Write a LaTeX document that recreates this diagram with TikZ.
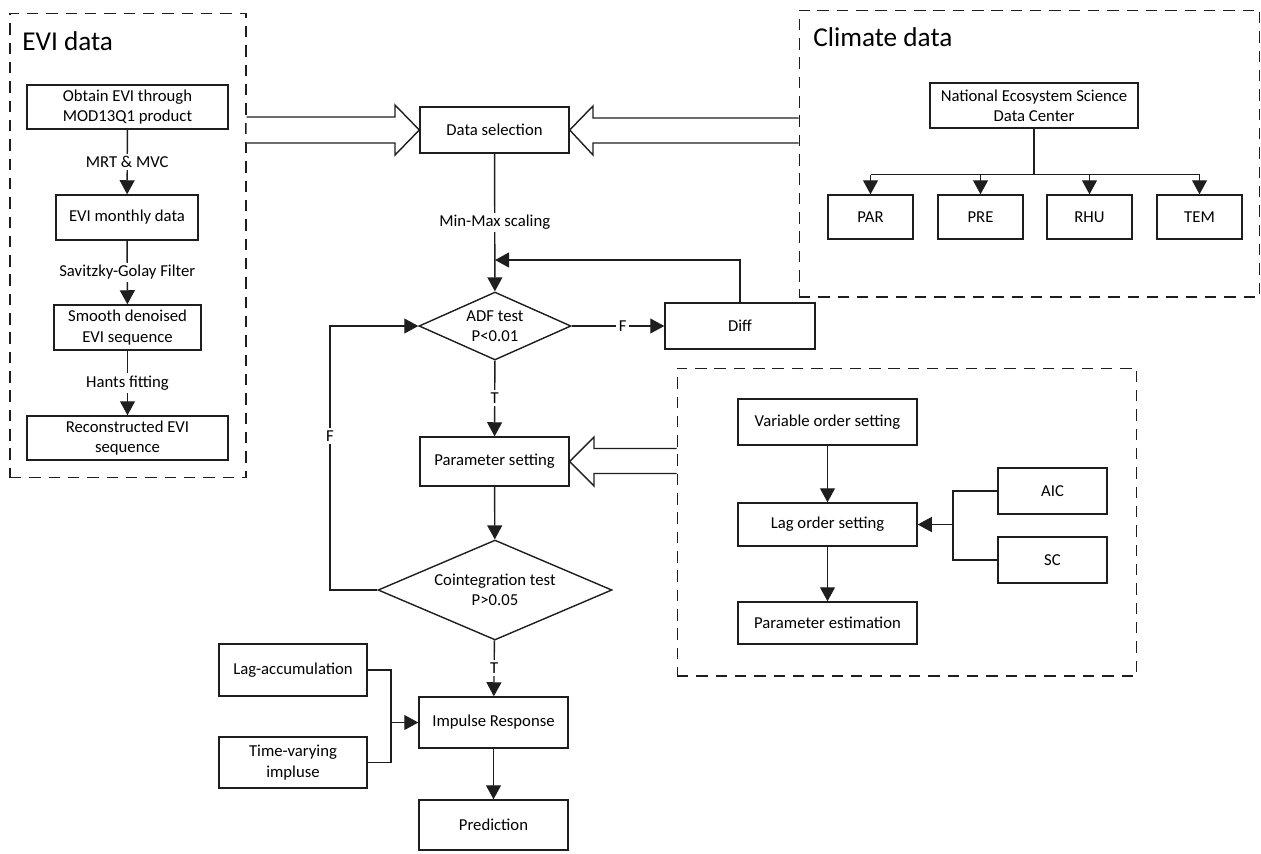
\documentclass[tikz,border=0pt]{standalone}
\usepackage{fontspec}
\setmainfont{Carlito}
\usepackage{tikz}
\usetikzlibrary{positioning, arrows.meta, shapes.geometric, calc}
\definecolor{lineGray}{RGB}{30,30,30}
\tikzset{
  box/.style={draw=lineGray, line width=0.8pt, align=center, inner sep=1pt, font=\fontsize{9.5}{11.5}\selectfont},
  decision/.style={diamond, draw=lineGray, line width=0.8pt, align=center, inner sep=0pt, font=\fontsize{9.5}{11.5}\selectfont},
  group/.style={draw=lineGray, line width=0.6pt, dash pattern=on 6.5pt off 4.5pt, inner sep=0pt},
  flow/.style={draw=lineGray, line width=0.8pt, -{Triangle[length=8pt,width=8.5pt]}},
  link/.style={draw=lineGray, line width=0.8pt},
  hollow/.style={draw=lineGray, line width=0.8pt, fill=white, line join=miter},
  lbl/.style={fill=white, inner sep=1.5pt, font=\fontsize{9.5}{11.5}\selectfont},
  title/.style={anchor=west, inner sep=0pt, font=\fontsize{15.5}{18}\selectfont}
}

\begin{document}
\begin{tikzpicture}[x=0.02cm, y=-0.02cm]
    \useasboundingbox (0,0) rectangle (1261,853);
    % groups
    \node[group, minimum width=4.72cm, minimum height=9.3cm] (evigrp) at (128,245.5) {};
    \node[group, minimum width=9.22cm, minimum height=5.74cm] (climgrp) at (1029.5,153.5) {};
    \node[group, minimum width=9.2cm, minimum height=6.16cm] (vargrp) at (907,522) {};
    \node[title] (evititle) at (22,41) {EVI data};
    \node[title] (climtitle) at (813,37) {Climate data};

    % EVI data
    \node[box, minimum width=4.02cm, minimum height=0.88cm] (obtain) at (127.5,107) {Obtain EVI through\\MOD13Q1 product};
    \node[box, minimum width=2.84cm, minimum height=0.9cm] (monthly) at (127,217.5) {EVI monthly data};
    \node[box, minimum width=2.94cm, minimum height=0.9cm] (smooth) at (127.5,327.5) {Smooth denoised\\EVI sequence};
    \node[box, minimum width=4.02cm, minimum height=0.88cm] (recon) at (127.5,438) {Reconstructed EVI\\sequence};
    \draw[flow] (obtain) -- node[lbl]{MRT \& MVC} (monthly);
    \draw[flow] (monthly) -- node[lbl]{Savitzky-Golay Filter} (smooth);
    \draw[flow] (smooth) -- node[lbl]{Hants fitting} (recon);

    % Climate data
    \node[box, minimum width=4.16cm, minimum height=0.9cm] (nesdc) at (1034,105.5) {National Ecosystem Science\\Data Center};
    \node[box, minimum width=1.7cm, minimum height=0.88cm] (par) at (870.5,217) {PAR};
    \node[box, minimum width=1.7cm, minimum height=0.88cm] (pre) at (980.5,217) {PRE};
    \node[box, minimum width=1.7cm, minimum height=0.88cm] (rhu) at (1089.5,217) {RHU};
    \node[box, minimum width=1.7cm, minimum height=0.88cm] (tem) at (1199.5,217) {TEM};
    \draw[link] (nesdc.south) -- ++(0,46) coordinate (bus);
    \draw[link] (par.north |- bus) -- (tem.north |- bus);
    \foreach \n in {par,pre,rhu,tem}
        \draw[flow] (\n.north |- bus) -- (\n.north);

    % main chain
    \node[box, minimum width=2.98cm, minimum height=0.92cm] (dsel) at (494.5,130) {Data selection};
    \node[decision, minimum width=3.04cm, minimum height=1.36cm, aspect=2.24] (adf) at (495,326) {ADF test\\P<0.01};
    \node[box, minimum width=3.0cm, minimum height=0.92cm] (diff) at (740,326) {Diff};
    \node[box, minimum width=2.98cm, minimum height=0.98cm] (pset) at (494.5,461.5) {Parameter setting};
    \node[decision, minimum width=4.68cm, minimum height=2.0cm, aspect=2.34] (coint) at (495,590) {Cointegration test\\P>0.05};
    \node[box, minimum width=2.98cm, minimum height=1.02cm] (impulse) at (493.5,722.5) {Impulse Response};
    \node[box, minimum width=2.98cm, minimum height=1.0cm] (predict) at (493.5,825) {Prediction};
    \node[box, minimum width=2.96cm, minimum height=1.04cm] (lagacc) at (293,670) {Lag-accumulation};
    \node[box, minimum width=2.96cm, minimum height=1.02cm] (timevar) at (293,762.5) {Time-varying\\impluse};

    \draw[flow] (dsel) -- node[lbl]{Min-Max scaling} (adf);
    \coordinate (fb) at (495,260);
    \draw[flow] (diff.north) |- (fb);
    \draw[flow] (adf) -- node[lbl, pos=0.55]{F} (diff);
    \draw[flow] (adf) -- node[lbl]{T} (pset);
    \draw[flow] (pset) -- (coint);
    \coordinate (loop) at (330,590);
    \draw[flow] (coint.west) -- (loop) |- (adf.west);
    \node[lbl] (flabel) at (330,436) {F};
    \draw[flow] (coint) -- node[lbl]{T} (impulse);
    \draw[flow] (impulse) -- (predict);
    \coordinate (impjoin) at (391,722.5);
    \draw[link] (lagacc.east) -| (impjoin);
    \draw[link] (timevar.east) -| (impjoin);
    \draw[flow] (impjoin) -- (impulse.west);

    % parameter block
    \node[box, minimum width=3.58cm, minimum height=0.92cm] (varord) at (827.5,422) {Variable order setting};
    \node[box, minimum width=3.58cm, minimum height=0.86cm] (lagord) at (827.5,524.5) {Lag order setting};
    \node[box, minimum width=3.58cm, minimum height=0.84cm] (pest) at (827.5,623) {Parameter estimation};
    \node[box, minimum width=2.18cm, minimum height=0.92cm] (aic) at (1052.5,491) {AIC};
    \node[box, minimum width=2.18cm, minimum height=0.92cm] (sc) at (1052.5,560) {SC};
    \draw[flow] (varord) -- (lagord);
    \draw[flow] (lagord) -- (pest);
    \coordinate (lagjoin) at (953,524.5);
    \draw[link] (aic.west) -| (lagjoin);
    \draw[link] (sc.west) -| (lagjoin);
    \draw[flow] (lagjoin) -- (lagord.east);

    % hollow arrows
    \draw[hollow] (evigrp.east |- 0,117) -- (395,117) -- (395,105) -- (dsel.west) -- (395,155) -- (395,143) -- (evigrp.east |- 0,143);
    \draw[hollow] (climgrp.west |- 0,118) -- (593,118) -- (593,106) -- (dsel.east) -- (593,155) -- (593,143) -- (climgrp.west |- 0,143);
    \draw[hollow] (vargrp.west |- 0,448.5) -- (594,448.5) -- (594,437) -- (pset.east) -- (594,486) -- (594,473.5) -- (vargrp.west |- 0,473.5);
\end{tikzpicture}
\end{document}
